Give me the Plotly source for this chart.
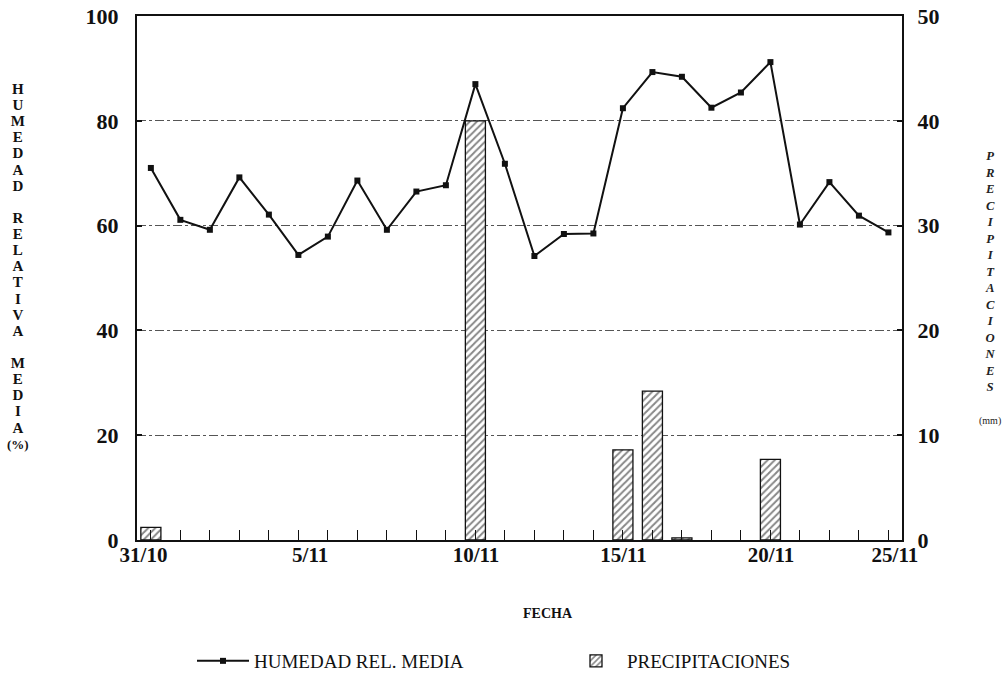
import plotly.graph_objects as go

# ---------------- data ----------------
dates = ["31/10", "1/11", "2/11", "3/11", "4/11", "5/11", "6/11", "7/11", "8/11",
         "9/11", "10/11", "11/11", "12/11", "13/11", "14/11", "15/11", "16/11",
         "17/11", "18/11", "19/11", "20/11", "21/11", "22/11", "23/11", "24/11", "25/11"]
humedad = [71.0, 61.1, 59.2, 69.2, 62.1, 54.4, 57.9, 68.6, 59.2, 66.5, 67.7, 87.0, 71.8,
           54.2, 58.4, 58.5, 82.4, 89.3, 88.4, 82.5, 85.4, 91.2, 60.2, 68.3, 61.9, 58.7]
precipitaciones = [1.2, 0, 0, 0, 0, 0, 0, 0, 0, 0, 0, 40.0, 0, 0, 0, 0, 8.6, 14.2, 0.2,
                   0, 0, 7.7, 0, 0, 0, 0]
tick_labels = ["31/10", "5/11", "10/11", "15/11", "20/11", "25/11"]
left_ticks = [0, 20, 40, 60, 80, 100]
right_ticks = [0, 10, 20, 30, 40, 50]
left_title = ["HUMEDAD", "RELATIVA", "MEDIA"]
right_title = "PRECIPITACIONES"

# ---------------- layout constants ----------------
W, H = 1008, 679
PLOT_L, PLOT_R, PLOT_T, PLOT_B = 137, 902, 16, 540   # plot frame in window pixels
ML, MR = PLOT_L, W - PLOT_R
MT, MB = PLOT_T, H - PLOT_B
PW, PH = PLOT_R - PLOT_L, PLOT_B - PLOT_T
label_pos = [-0.25, 5.4, 11.02, 16.02, 21.02, 25.22]  # where the date labels sit


def px_x(px):
    return (px - PLOT_L) / PW


def px_y(py):
    return (PLOT_B - py) / PH


FONT = "Liberation Serif"
INK = "#111111"

days = list(range(len(dates)))
bar_y = [v if v > 0 else None for v in precipitaciones]

fig = go.Figure()

fig.add_trace(go.Bar(
    x=days, y=bar_y, yaxis="y", name="PRECIPITACIONES", width=0.68,
    marker=dict(color="white", line=dict(color=INK, width=1.3),
                pattern=dict(shape="/", fgcolor=INK, bgcolor="white", size=5, solidity=0.4)),
    legendrank=2, customdata=dates,
    hovertemplate="%{customdata}: %{y} mm<extra></extra>",
))

fig.add_trace(go.Scatter(
    x=days, y=humedad, yaxis="y2", name="HUMEDAD REL. MEDIA", mode="lines+markers",
    line=dict(color=INK, width=2),
    marker=dict(symbol="square", size=6, color=INK),
    legendrank=1, customdata=dates,
    hovertemplate="%{customdata}: %{y} %<extra></extra>",
))

# stacked-letter axis titles (one text block each)
big = '<span style="font-size:15px">{}</span>'
left_lines = []
for k, word in enumerate(left_title):
    if k:
        left_lines.append(" ")
    left_lines += [big.format(ch) for ch in word]
left_lines.append('<span style="font-size:13px">(%)</span>')
left_text = "<b>" + "<br>".join(left_lines) + "</b>"

right_lines = [f"<b><i>{ch}</i></b>" for ch in right_title] + \
              [" ", '<span style="font-size:10px">(mm)</span>']
right_text = "<br>".join(right_lines)

annotations = [
    dict(text=left_text, x=px_x(18), y=px_y(79), xref="paper", yref="paper",
         showarrow=False, xanchor="center", yanchor="top", align="center",
         font=dict(family=FONT, size=12.4, color=INK)),
    dict(text=right_text, x=px_x(990), y=px_y(147), xref="paper", yref="paper",
         showarrow=False, xanchor="center", yanchor="top", align="center",
         font=dict(family=FONT, size=12.7, color="#222222")),
    dict(text="<b>FECHA</b>", x=px_x(548), y=px_y(613), xref="paper", yref="paper",
         showarrow=False, xanchor="center", yanchor="middle",
         font=dict(family=FONT, size=14, color=INK)),
]

fig.update_layout(
    width=W, height=H,
    margin=dict(l=ML, r=MR, t=MT, b=MB, autoexpand=False),
    paper_bgcolor="white", plot_bgcolor="white",
    font=dict(family=FONT, color=INK),
    showlegend=True,
    legend=dict(orientation="h", x=px_x(192), xanchor="left", y=px_y(661), yanchor="middle",
                font=dict(family=FONT, size=19, color=INK), entrywidth=306,
                entrywidthmode="pixels", itemwidth=52, bgcolor="rgba(0,0,0,0)"),
    xaxis=dict(
        range=[-0.47, 25.46], showgrid=False, zeroline=False, automargin=False,
        showline=True, linecolor=INK, linewidth=2, mirror=True,
        tickmode="array", tickvals=label_pos, ticktext=[f"<b>{t}</b>" for t in tick_labels],
        ticks="", ticklabelstandoff=-5, ticklabeloverflow="allow",
        tickfont=dict(family=FONT, size=21, color=INK),
        minor=dict(tickmode="array", tickvals=days, ticks="inside", ticklen=10,
                   tickwidth=1.3, tickcolor=INK, showgrid=False),
    ),
    yaxis=dict(
        range=[0, 50], side="right", tickmode="array", tickvals=right_ticks,
        ticktext=[f"<b>{t}</b>" for t in right_ticks], automargin=False,
        showgrid=True, gridcolor="#555555", gridwidth=1, griddash="dashdot",
        zeroline=False, showline=True, linecolor=INK, linewidth=2,
        ticks="inside", ticklen=5, tickwidth=1.5, tickcolor=INK,
        ticklabelstandoff=9, ticklabeloverflow="allow",
        tickfont=dict(family=FONT, size=22, color=INK),
    ),
    yaxis2=dict(
        range=[0, 100], side="left", overlaying="y", tickmode="array", tickvals=left_ticks,
        ticktext=[f"<b>{t}</b>" for t in left_ticks], automargin=False,
        showgrid=False, zeroline=False, showline=True, linecolor=INK, linewidth=2,
        ticks="inside", ticklen=5, tickwidth=1.5, tickcolor=INK,
        ticklabelstandoff=12, ticklabeloverflow="allow",
        tickfont=dict(family=FONT, size=22, color=INK),
    ),
    annotations=annotations,
    bargap=0.3,
)

# remove the page's default body margin so the figure fills the window exactly
fig.write_html("out.html", config={"displayModeBar": False},
               post_script="document.body.style.margin='0';")
